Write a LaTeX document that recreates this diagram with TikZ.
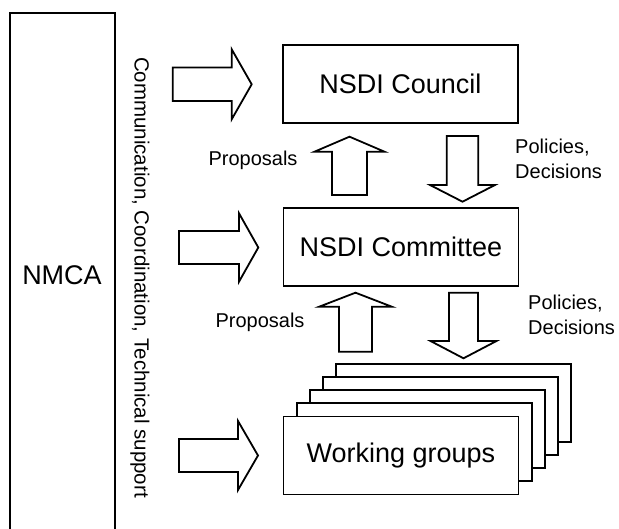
\documentclass[tikz,border=0pt]{standalone}
\usepackage{fontspec}
\setmainfont{Liberation Sans}
\begin{document}
\begin{tikzpicture}[x=1pt,y=-1pt,
  box/.style={draw,line width=1.8pt,fill=white,minimum width=235pt,minimum height=78pt,inner sep=0pt,font=\fontsize{27}{30}\selectfont},
  blk/.style={draw,line width=1.8pt,fill=white,line join=miter},
  lbl/.style={font=\fontsize{20}{25}\selectfont,inner sep=0pt,align=left}]
\useasboundingbox (0,0) rectangle (619,529);
% harrow: x0, xbase, xtip, yc, shaft half, head half
\newcommand\harrow[6]{\draw[blk] (#1,{#4-#5}) -- (#2,{#4-#5}) -- (#2,{#4-#6}) -- (#3,#4) -- (#2,{#4+#6}) -- (#2,{#4+#5}) -- (#1,{#4+#5}) -- cycle;}
% varrow: xc, y0, ybase, ytip, shaft half, head half
\newcommand\varrow[6]{\draw[blk] ({#1-#5},#2) -- ({#1-#5},#3) -- ({#1-#6},#3) -- (#1,#4) -- ({#1+#6},#3) -- ({#1+#5},#3) -- ({#1+#5},#2) -- cycle;}
% NMCA
\draw[line width=1.8pt] (10,540) -- (10,13) -- (115,13) -- (115,540);
\node[font=\fontsize{27}{30}\selectfont] (nmca) at (62,275) {NMCA};
\node[rotate=-90,font=\fontsize{20.5}{24}\selectfont,inner sep=0pt] (comm) at (140,277.5) {Communication, Coordination, Technical support};
% boxes
\node[box] (council) at (400.5,84) {NSDI Council};
\node[box] (committee) at (401,247) {NSDI Committee};
\foreach \i in {4,3,2,1} {
  \node[box] (wg\i) at ({401+13.2*\i},{455.5-13.2*\i}) {};
}
\node[box] (wg) at (401,455.5) {Working groups};
% side arrows
\harrow{172.7}{231.7}{251.7}{84.3}{16.7}{35}
\harrow{179}{239}{258.3}{247.5}{16.5}{34.2}
\harrow{179}{238}{258}{455.5}{16.5}{34.5}
% vertical arrows
\varrow{349.5}{195}{151.7}{136.7}{17.5}{35}
\varrow{462.5}{136}{185}{201.7}{15.8}{32.5}
\varrow{355.5}{351.7}{306.7}{292.7}{16.5}{36.3}
\varrow{463.5}{292.7}{341}{358.3}{14.5}{33}
% labels
\node[lbl] (prop1) at (253,160) {Proposals};
\node[lbl] (prop2) at (260,322) {Proposals};
\node[lbl,anchor=west] (pol1) at (515,159.2) {Policies,\\Decisions};
\node[lbl,anchor=west] (pol2) at (528,315) {Policies,\\Decisions};
\end{tikzpicture}
\end{document}
